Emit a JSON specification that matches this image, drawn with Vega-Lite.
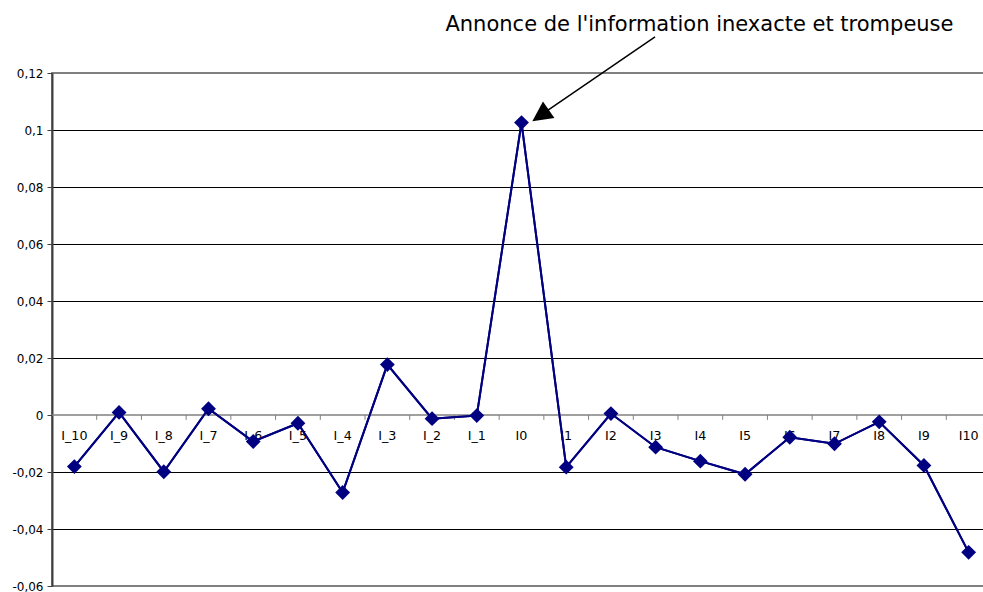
{
  "$schema": "https://vega.github.io/schema/vega-lite/v6.json",
  "width": 939,
  "height": 513,
  "autosize": {"type": "none"},
  "padding": {"left": 52, "top": 73, "right": 0, "bottom": 6},
  "background": "white",
  "config": {
    "view": {"stroke": "#808080", "strokeWidth": 2},
    "font": "DejaVu Sans"
  },
  "data": {
    "values": [
      {"cat": "I_10", "idx": 0, "value": -0.0181},
      {"cat": "I_9", "idx": 1, "value": 0.0009},
      {"cat": "I_8", "idx": 2, "value": -0.0199},
      {"cat": "I_7", "idx": 3, "value": 0.0022},
      {"cat": "I_6", "idx": 4, "value": -0.0093},
      {"cat": "I_5", "idx": 5, "value": -0.0029},
      {"cat": "I_4", "idx": 6, "value": -0.0272},
      {"cat": "I_3", "idx": 7, "value": 0.0177},
      {"cat": "I_2", "idx": 8, "value": -0.0013},
      {"cat": "I_1", "idx": 9, "value": -0.0002},
      {"cat": "I0", "idx": 10, "value": 0.1026},
      {"cat": "I1", "idx": 11, "value": -0.0183},
      {"cat": "I2", "idx": 12, "value": 0.0005},
      {"cat": "I3", "idx": 13, "value": -0.0113},
      {"cat": "I4", "idx": 14, "value": -0.0162},
      {"cat": "I5", "idx": 15, "value": -0.0208},
      {"cat": "I6", "idx": 16, "value": -0.0078},
      {"cat": "I7", "idx": 17, "value": -0.0101},
      {"cat": "I8", "idx": 18, "value": -0.0024},
      {"cat": "I9", "idx": 19, "value": -0.0177},
      {"cat": "I10", "idx": 20, "value": -0.0482}
    ]
  },
  "layer": [
    {
      "mark": {"type": "line", "color": "#000080", "strokeWidth": 2},
      "encoding": {
        "x": {"field": "idx", "type": "quantitative", "scale": {"domain": [-0.5, 20.5], "nice": false, "zero": false}, "axis": null},
        "y": {
          "field": "value",
          "type": "quantitative",
          "scale": {"domain": [-0.06, 0.12], "nice": false, "zero": false},
          "axis": {
            "title": null,
            "values": [-0.06, -0.04, -0.02, 0, 0.02, 0.04, 0.06, 0.08, 0.1, 0.12],
            "labelExpr": "replace(toString(datum.value), '.', ',')",
            "grid": true,
            "gridColor": "#000000",
            "gridWidth": 1,
            "gridOpacity": {"condition": {"test": "datum.value == 0.12 || datum.value == -0.06 || datum.value == 0", "value": 0}, "value": 1},
            "domainColor": "#404040",
            "domainWidth": 2,
            "tickColor": "#404040",
            "tickSize": 5,
            "labelFontSize": 12,
            "labelColor": "#000000",
            "labelPadding": 4,
            "labelFont": "DejaVu Sans"
          }
        }
      }
    },
    {
      "data": {"values": [{}]},
      "mark": {"type": "rule", "color": "#808080", "strokeWidth": 1.5},
      "encoding": {"y": {"datum": 0}}
    },
    {
      "transform": [{"filter": "datum.idx < 20"}, {"calculate": "datum.idx + 0.5", "as": "b"}],
      "mark": {"type": "rule", "color": "#808080", "strokeWidth": 1},
      "encoding": {
        "x": {"field": "b", "type": "quantitative"},
        "y": {"datum": 0},
        "y2": {"datum": -0.0017}
      }
    },
    {
      "mark": {"type": "text", "fontSize": 12.7, "color": "#000000", "baseline": "alphabetic", "align": "center", "dy": 25, "font": "DejaVu Sans"},
      "encoding": {
        "x": {"field": "idx", "type": "quantitative"},
        "y": {"datum": 0},
        "text": {"field": "cat"}
      }
    },
    {
      "mark": {"type": "line", "color": "#000080", "strokeWidth": 2},
      "encoding": {
        "x": {"field": "idx", "type": "quantitative"},
        "y": {"field": "value", "type": "quantitative"}
      }
    },
    {
      "mark": {"type": "point", "shape": "diamond", "filled": true, "size": 220, "color": "#000080", "opacity": 1},
      "encoding": {
        "x": {"field": "idx", "type": "quantitative"},
        "y": {"field": "value", "type": "quantitative"}
      }
    },
    {
      "data": {"values": [{}]},
      "mark": {"type": "text", "fontSize": 21, "color": "#000000", "align": "center", "baseline": "alphabetic", "font": "DejaVu Sans", "text": "Annonce de l'information inexacte et trompeuse"},
      "encoding": {
        "x": {"datum": 13.98},
        "y": {"datum": 0.1348}
      }
    },
    {
      "data": {"values": [{}]},
      "mark": {"type": "rule", "color": "#000000", "strokeWidth": 1.5},
      "encoding": {
        "x": {"datum": 12.986},
        "y": {"datum": 0.1327},
        "x2": {"datum": 10.593},
        "y2": {"datum": 0.107}
      }
    },
    {
      "data": {"values": [{}]},
      "mark": {"type": "point", "shape": "M0,-1L-1,1L1,1Z", "filled": true, "size": 400, "color": "#000000", "opacity": 1, "angle": 235},
      "encoding": {
        "x": {"datum": 10.425},
        "y": {"datum": 0.1051}
      }
    }
  ]
}
